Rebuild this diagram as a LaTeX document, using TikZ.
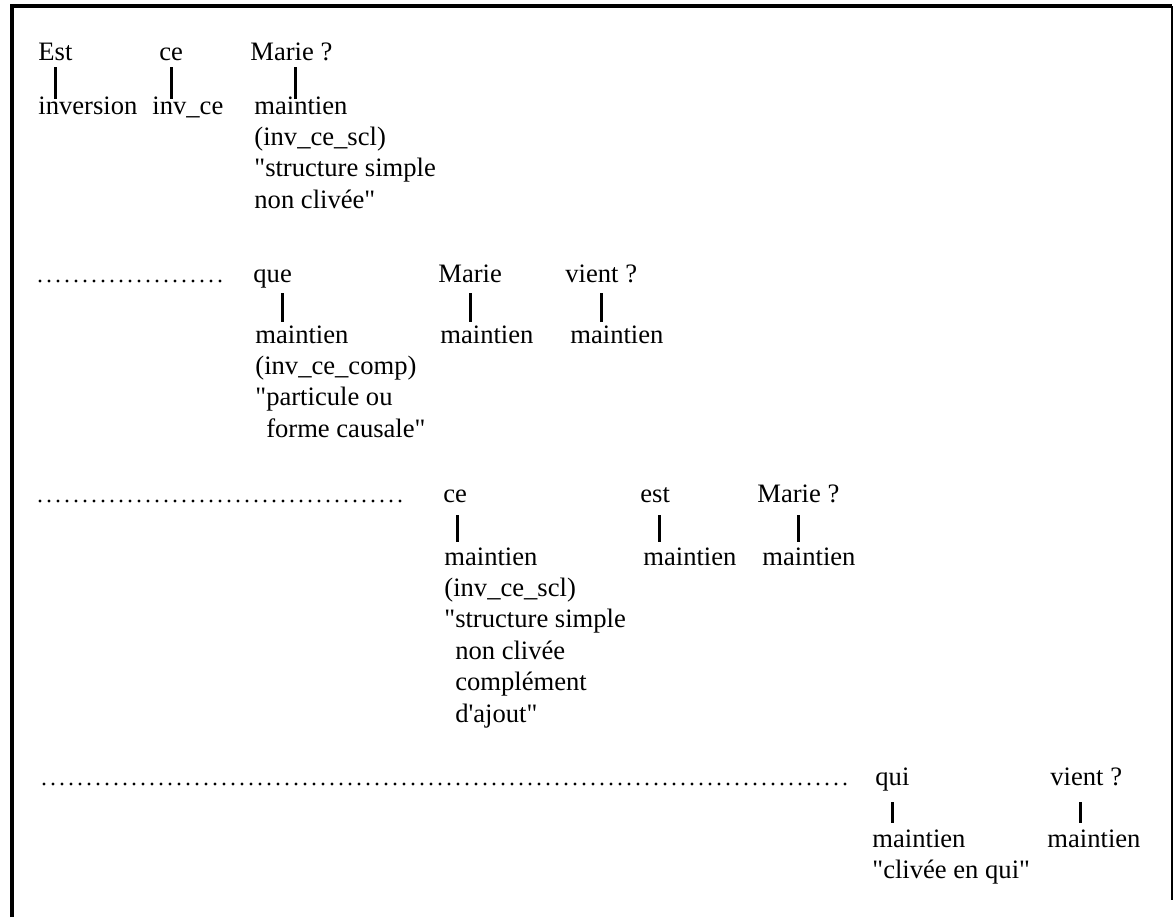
\documentclass[tikz,border=0pt]{standalone}
\usepackage{fontspec}
\setmainfont{Liberation Serif}
\usetikzlibrary{calc}
\newcommand{\lines}[1]{\begin{tabular}[t]{@{}l@{}}#1\end{tabular}}
\newcommand{\dq}{\textquotedbl}

\begin{document}
\begin{tikzpicture}[x=0.5pt, y=-0.5pt,
        word/.style={anchor=base west, inner sep=0pt,
                     font=\fontsize{13.3}{15.7}\selectfont},
        bar/.style={line width=1.4pt},
        leader/.style={line width=1.7pt, line cap=round, dash pattern=on 0pt off 4.5pt},
        frame/.style={line width=2pt}
      ]
        \useasboundingbox (0,0) rectangle (1174,917);
        \draw[frame] (12,917) -- (12,6) -- (1172,6);
        \draw[line width=0.8pt] (1172,6) -- (1172,900);

        % Est-ce Marie ?
        \node[word] (est)    at (38,60)   {Est};
        \node[word] (ce1)    at (159,60)  {ce};
        \node[word] (marie1) at (250,60)  {Marie ?};
        \node[word] (inv)    at (38,114)  {inversion};
        \node[word] (invce)  at (152,114) {inv\_ce};
        \node[word] (m1)     at (254,114) {\lines{maintien\\(inv\_ce\_scl)\\\dq structure simple\\non clivée\dq}};

        \draw[bar] ($(est.base)+(0,7)$)    -- ($(est.base |- inv.base)+(0,-15)$);
        \draw[bar] ($(ce1.base)+(0,7)$)    -- ($(ce1.base |- invce.base)+(0,-15)$);
        \draw[bar] ($(marie1.base)+(4,7)$) -- ($(marie1.base |- m1.base)+(4,-15)$);

        % ... que Marie vient ?
        \coordinate (lead2a) at (40,281);
        \coordinate (lead2b) at (222,281);
        \draw[leader] (lead2a) -- (lead2b);
        \node[word] (que)    at (253,282) {que};
        \node[word] (marie2) at (438,282) {Marie};
        \node[word] (vient2) at (565,282) {vient ?};
        \node[word] (m2)     at (255,343) {\lines{maintien\\(inv\_ce\_comp)\\\dq particule ou\\\hphantom{\dq}forme causale\dq}};
        \node[word] (m3)     at (440,343) {maintien};
        \node[word] (m4)     at (570,343) {maintien};

        \draw[bar] ($(que.base)+(10,11)$)   -- ($(que.base |- m2.base)+(10,-21)$);
        \draw[bar] ($(marie2.base)+(0,11)$) -- ($(marie2.base |- m3.base)+(0,-21)$);
        \draw[bar] ($(vient2.base)+(0,11)$) -- ($(vient2.base |- m4.base)+(0,-21)$);

        % ... ce est Marie ?
        \coordinate (lead3a) at (40,501);
        \coordinate (lead3b) at (407,501);
        \draw[leader] (lead3a) -- (lead3b);
        \node[word] (ce3)    at (443,502) {ce};
        \node[word] (est3)   at (640,502) {est};
        \node[word] (marie3) at (757,502) {Marie ?};
        \node[word] (m5)     at (444,565) {\lines{maintien\\(inv\_ce\_scl)\\\dq structure simple\\\hphantom{\dq}non clivée\\\hphantom{\dq}complément\\\hphantom{\dq}d\textquotesingle ajout\dq}};
        \node[word] (m6)     at (643,565) {maintien};
        \node[word] (m7)     at (762,565) {maintien};

        \draw[bar] ($(ce3.base)+(2,13)$)    -- ($(ce3.base |- m5.base)+(2,-23)$);
        \draw[bar] ($(est3.base)+(4,13)$)   -- ($(est3.base |- m6.base)+(4,-23)$);
        \draw[bar] ($(marie3.base)+(0,13)$) -- ($(marie3.base |- m7.base)+(0,-23)$);

        % ... qui vient ?
        \coordinate (lead4a) at (44,784);
        \coordinate (lead4b) at (846,784);
        \draw[leader] (lead4a) -- (lead4b);
        \node[word] (qui)    at (875,785)  {qui};
        \node[word] (vient4) at (1050,785) {vient ?};
        \node[word] (m8)     at (872,847)  {\lines{maintien\\\dq clivée en qui\dq}};
        \node[word] (m9)     at (1047,847) {maintien};

        \draw[bar] ($(qui.base)+(0,17)$)     -- ($(qui.base |- m8.base)+(0,-24)$);
        \draw[bar] ($(vient4.base)+(-6,17)$) -- ($(vient4.base |- m9.base)+(-6,-24)$);
      \end{tikzpicture}
\end{document}
